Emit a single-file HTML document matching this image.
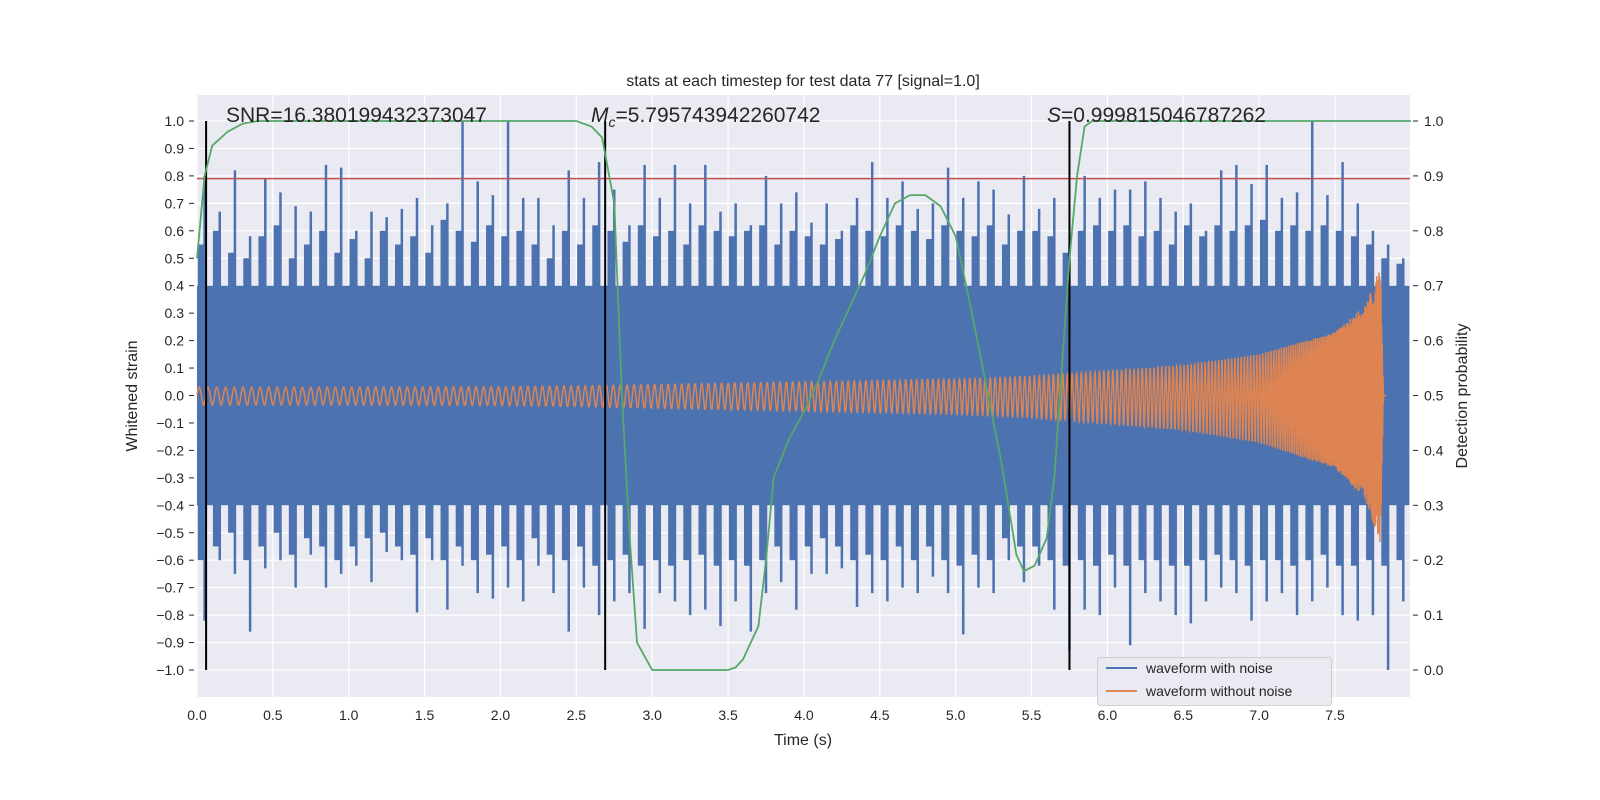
<!DOCTYPE html>
<html><head><meta charset="utf-8"><style>
html,body{margin:0;padding:0;background:#fff;overflow:hidden;width:100%;height:100%;}
svg{display:block;width:100vw;height:100vh;}
svg text{font-family:"Liberation Sans","DejaVu Sans",sans-serif;fill:#262626;}
</style></head><body>
<svg id="chart" viewBox="0 0 1600 800" preserveAspectRatio="none" xmlns="http://www.w3.org/2000/svg">
<rect x="197" y="95" width="1213" height="602" fill="#eaeaf2"/>
<g id="grid"></g>
<g id="series"></g>
<g id="axes"></g>
<text x="803" y="86" font-size="16" text-anchor="middle">stats at each timestep for test data 77 [signal=1.0]</text>
<text x="803" y="745" font-size="16" text-anchor="middle">Time (s)</text>
<text transform="translate(137,396) rotate(-90)" font-size="16" text-anchor="middle">Whitened strain</text>
<text transform="translate(1467,396) rotate(-90)" font-size="16" text-anchor="middle">Detection probability</text>
<text x="226" y="122" font-size="21">SNR=16.380199432373047</text>
<text x="591" y="122" font-size="21"><tspan font-style="italic">M</tspan><tspan font-size="14" dy="5" font-style="italic">c</tspan><tspan dy="-5">=5.795743942260742</tspan></text>
<text x="1047" y="122" font-size="21"><tspan font-style="italic">S</tspan>=0.999815046787262</text>
<g>
<rect x="1097.5" y="657.5" width="234" height="48" rx="3" fill="#eaeaf2" stroke="#cccccc" opacity="0.9"/>
<line x1="1106" y1="668" x2="1137" y2="668" stroke="#4c72b0" stroke-width="2"/>
<text x="1146" y="673" font-size="14">waveform with noise</text>
<line x1="1106" y1="691" x2="1137" y2="691" stroke="#dd8452" stroke-width="2"/>
<text x="1146" y="696" font-size="14">waveform without noise</text>
</g>
</svg>
<script>
const binStarts=[0,0.1,0.2,0.3,0.4,0.5,0.6,0.7,0.8,0.9,1.0,1.1,1.2,1.3,1.4,1.5,1.6,1.7,1.8,1.9,2.0,2.1,2.2,2.3,2.4,2.5,2.6,2.7,2.8,2.9,3.0,3.1,3.2,3.3,3.4,3.5,3.6,3.7,3.8,3.9,4.0,4.1,4.2,4.3,4.4,4.5,4.6,4.7,4.8,4.9,5.0,5.1,5.2,5.3,5.4,5.5,5.6,5.7,5.8,5.9,6.0,6.1,6.2,6.3,6.4,6.5,6.6,6.7,6.8,6.9,7.0,7.1,7.2,7.3,7.4,7.5,7.6,7.7,7.8,7.9];
const noiseMax=[0.8,0.67,0.82,0.58,0.79,0.74,0.69,0.67,0.84,0.83,0.6,0.67,0.65,0.68,0.72,0.62,0.7,1.0,0.78,0.73,1.0,0.72,0.72,0.62,0.82,0.72,0.85,0.75,0.62,0.84,0.72,0.84,0.7,0.84,0.67,0.7,0.62,0.8,0.7,0.74,0.63,0.7,0.6,0.72,0.85,0.72,0.78,0.68,0.7,0.83,0.72,0.78,0.75,0.66,0.8,0.68,0.72,0.55,0.8,0.72,0.75,0.75,0.78,0.72,0.67,0.7,0.6,0.82,0.84,0.77,0.84,0.72,0.74,1.0,0.73,0.85,0.7,0.6,0.55,0.5];
const noiseMin=[-0.82,-0.6,-0.65,-0.86,-0.63,-0.6,-0.7,-0.58,-0.7,-0.65,-0.62,-0.68,-0.57,-0.6,-0.79,-0.6,-0.78,-0.62,-0.72,-0.74,-0.7,-0.75,-0.62,-0.72,-0.86,-0.7,-0.8,-0.75,-0.72,-0.85,-0.72,-0.75,-0.8,-0.78,-0.84,-0.75,-0.86,-0.72,-0.68,-0.78,-0.65,-0.65,-0.63,-0.77,-0.72,-0.75,-0.7,-0.72,-0.66,-0.72,-0.87,-0.7,-0.72,-0.6,-0.68,-0.62,-0.78,-0.93,-0.78,-0.8,-0.7,-0.91,-0.72,-0.75,-0.8,-0.83,-0.75,-0.7,-0.72,-0.82,-0.75,-0.72,-0.8,-0.75,-0.7,-0.8,-0.82,-0.8,-1.0,-0.75];
const noiseMax2=[0.55,0.6,0.52,0.5,0.58,0.62,0.5,0.55,0.6,0.52,0.57,0.5,0.6,0.55,0.58,0.52,0.64,0.6,0.56,0.62,0.58,0.6,0.55,0.5,0.6,0.55,0.62,0.6,0.56,0.62,0.58,0.6,0.55,0.62,0.6,0.58,0.6,0.62,0.55,0.6,0.58,0.55,0.57,0.62,0.6,0.58,0.62,0.6,0.57,0.62,0.6,0.58,0.62,0.55,0.6,0.6,0.58,0.52,0.6,0.62,0.6,0.62,0.58,0.6,0.55,0.62,0.58,0.62,0.6,0.62,0.64,0.6,0.62,0.6,0.62,0.6,0.58,0.55,0.5,0.48];
const noiseMin2=[-0.6,-0.55,-0.5,-0.6,-0.55,-0.5,-0.58,-0.52,-0.55,-0.6,-0.55,-0.52,-0.5,-0.55,-0.58,-0.52,-0.6,-0.55,-0.6,-0.58,-0.55,-0.6,-0.52,-0.58,-0.6,-0.55,-0.62,-0.6,-0.58,-0.62,-0.6,-0.62,-0.6,-0.58,-0.62,-0.6,-0.62,-0.6,-0.55,-0.6,-0.55,-0.52,-0.55,-0.6,-0.58,-0.6,-0.55,-0.6,-0.55,-0.6,-0.62,-0.58,-0.6,-0.52,-0.55,-0.55,-0.6,-0.62,-0.6,-0.62,-0.58,-0.62,-0.6,-0.6,-0.62,-0.62,-0.6,-0.58,-0.6,-0.62,-0.6,-0.6,-0.62,-0.6,-0.58,-0.62,-0.62,-0.6,-0.62,-0.6];
const noiseCore=0.4;
const chirpT=[0,1,2,2.5,3,3.5,4,4.5,5,5.5,6,6.5,7,7.5,7.7,7.8,7.82];
const chirpAmp=[0.03,0.03,0.032,0.035,0.04,0.045,0.05,0.055,0.06,0.07,0.09,0.11,0.15,0.23,0.33,0.47,0.0];
const freqT=[0,4,6,7,7.5,7.8,7.82];
const freqHz=[17,24,34,50,90,220,220];
const probT=[0,0.05,0.1,0.2,0.3,0.4,2.5,2.6,2.67,2.75,2.8,2.85,2.9,3.0,3.5,3.55,3.6,3.7,3.75,3.8,3.9,4.0,4.1,4.2,4.3,4.4,4.5,4.6,4.7,4.8,4.9,5.0,5.1,5.2,5.3,5.4,5.45,5.52,5.6,5.65,5.7,5.75,5.8,5.85,5.9,8.0];
const probV=[0.75,0.9,0.955,0.98,0.995,1.0,1.0,0.99,0.97,0.85,0.5,0.25,0.05,0.0,0.0,0.005,0.02,0.08,0.2,0.35,0.42,0.47,0.53,0.6,0.66,0.72,0.79,0.85,0.865,0.865,0.845,0.79,0.66,0.52,0.38,0.21,0.18,0.19,0.24,0.35,0.55,0.75,0.9,0.99,1.0,1.0];
const threshold=0.79;
const markerTimes=[0.06,2.69,5.75];
const xTicks=[0,0.5,1,1.5,2,2.5,3,3.5,4,4.5,5,5.5,6,6.5,7,7.5];
const yTicks=[-1,-0.9,-0.8,-0.7,-0.6,-0.5,-0.4,-0.3,-0.2,-0.1,0,0.1,0.2,0.3,0.4,0.5,0.6,0.7,0.8,0.9,1.0];
const pTicks=[0,0.1,0.2,0.3,0.4,0.5,0.6,0.7,0.8,0.9,1.0];

const NS='http://www.w3.org/2000/svg';
const X=t=>197+t*(1335-197)/7.5;
const Y=v=>395.5-v*274.5;
const P=p=>670-p*549;
function mk(tag,attrs,parent){const e=document.createElementNS(NS,tag);for(const k in attrs)e.setAttribute(k,attrs[k]);parent.appendChild(e);return e;}
function interp(ts,vs,t){if(t<=ts[0])return vs[0];for(let i=1;i<ts.length;i++){if(t<=ts[i]){const f=(t-ts[i-1])/(ts[i]-ts[i-1]);return vs[i-1]+f*(vs[i]-vs[i-1]);}}return vs[vs.length-1];}
const grid=document.getElementById('grid'),series=document.getElementById('series'),axes=document.getElementById('axes');
xTicks.forEach(t=>{
 const g=mk('line',{x1:X(t),x2:X(t),y1:95,y2:697,stroke:'#fff','stroke-width':1.2},grid);
 
 
 const tl=mk('text',{x:X(t),y:720,'font-size':14,'text-anchor':'middle'},axes);tl.textContent=t.toFixed(1);
 
 
});
yTicks.forEach(v=>{
 const g=mk('line',{x1:197,x2:1410,y1:Y(v),y2:Y(v),stroke:'#fff','stroke-width':1.2},grid);
 
 
 mk('line',{x1:189,x2:194,y1:Y(v),y2:Y(v),stroke:'#262626'},axes);
 const tl=mk('text',{x:184,y:Y(v)+5,'font-size':14,'text-anchor':'end'},axes);tl.textContent=(v<0?'\u2212':'')+Math.abs(v).toFixed(1);
 
 
});
pTicks.forEach(p=>{
 mk('line',{x1:1413,x2:1418,y1:P(p),y2:P(p),stroke:'#262626'},axes);
 const tl=mk('text',{x:1424,y:P(p)+5,'font-size':14},axes);tl.textContent=p.toFixed(1);
 
 
});
const core=mk('rect',{x:X(0),y:Y(noiseCore),width:X(7.99)-X(0),height:Y(-noiseCore)-Y(noiseCore),fill:'#4c72b0'},series);


binStarts.forEach((t,i)=>{
 const s=mk('line',{x1:X(t+0.05),x2:X(t+0.05),y1:Y(noiseMax[i]),y2:Y(noiseMin[i]),stroke:'#4c72b0','stroke-width':2.5},series);
 
 
 const s2=mk('rect',{x:X(t+0.005),y:Y(noiseMax2[i]),width:X(0.04)-X(0),height:Y(noiseMin2[i])-Y(noiseMax2[i]),fill:'#4c72b0'},series);
 
 
});
let pts=[],ph=0,dt=0.001;
for(let t=0;t<=7.84;t+=dt){ph+=2*Math.PI*interp(freqT,freqHz,t)*dt;const a=t>7.82?0:interp(chirpT,chirpAmp,t);pts.push(X(t).toFixed(1)+','+Y(a*Math.sin(ph)*(Math.sin(ph)<0?1.15:1)).toFixed(1));}
const ch=mk('polyline',{points:pts.join(' '),fill:'none',stroke:'#dd8452','stroke-width':1.5},series);


const th=mk('line',{x1:197,x2:1410,y1:Y(threshold),y2:Y(threshold),stroke:'#c44e52','stroke-width':1.5},series);


markerTimes.forEach(t=>{
 const m=mk('line',{x1:X(t),x2:X(t),y1:Y(1),y2:Y(-1),stroke:'#000','stroke-width':2},series);
 
 
});
const pl=mk('polyline',{points:probT.map((t,i)=>X(t).toFixed(1)+','+P(probV[i]).toFixed(1)).join(' '),fill:'none',stroke:'#55a868','stroke-width':1.8},series);


</script>
</body></html>
